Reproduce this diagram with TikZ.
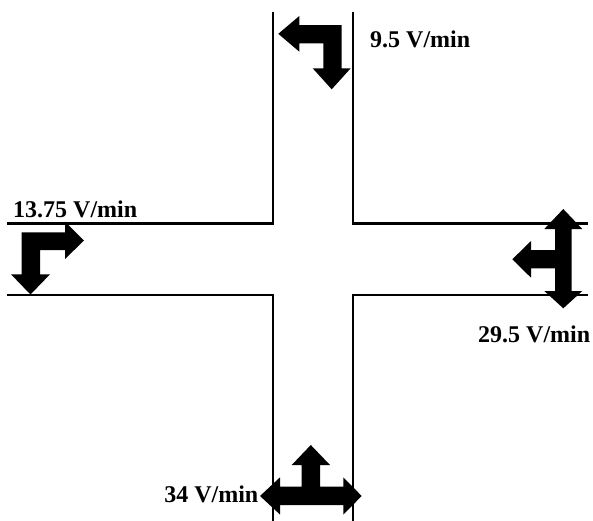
\documentclass[tikz,border=0pt]{standalone}
\usepackage{fontspec}
\setmainfont{Liberation Serif}
\begin{document}
\begin{tikzpicture}[x=1pt,y=-1pt,
  road/.style={line width=2.3pt, line cap=rect, line join=miter},
  turn/.style={fill=black, draw=none},
  rate/.style={anchor=base west, inner sep=0pt, font=\fontsize{24}{28}\selectfont\bfseries}]
\useasboundingbox (0,0) rectangle (593,520);
\clip (0,0) rectangle (593,520);
% roads
\draw[road] (8,223.5) -- (273,223.5) -- (273,13);
\draw[road] (353,13) -- (353,223.5) -- (587,223.5);
\draw[road] (8,295) -- (273,295) -- (273,522);
\draw[road] (353,522) -- (353,295) -- (587,295);
% top arrow: left + down
\fill[turn] (278.3,33.8) -- (299.3,16) -- (299.3,25) -- (341.7,25) -- (341.7,68.3)
  -- (350.7,68.3) -- (331.7,89.3) -- (312.7,68.3) -- (323.3,68.3) -- (323.3,43.3)
  -- (299.3,43.3) -- (299.3,51.7) -- cycle;
% left arrow: right + down
\fill[turn] (84,240.5) -- (65,221.5) -- (65,232.3) -- (21.7,232.3) -- (21.7,274.3)
  -- (11,274.3) -- (30.5,294.5) -- (50,274.3) -- (40,274.3) -- (40,250)
  -- (65,250) -- (65,259) -- cycle;
% right arrow: up + down + left
\fill[turn] (563.3,209) -- (582.3,229) -- (571.7,229) -- (571.7,291) -- (582.3,291)
  -- (563.3,308.3) -- (544.3,291) -- (555,291) -- (555,268.3) -- (531,268.3)
  -- (531,277.7) -- (512.3,259.3) -- (531,241) -- (531,250) -- (555,250)
  -- (555,229) -- (544.3,229) -- cycle;
% bottom arrow: left + right + up
\fill[turn] (260,496) -- (280,477.3) -- (280,486.7) -- (301.7,486.7) -- (301.7,465)
  -- (291.7,465) -- (310.8,445) -- (330,465) -- (320,465) -- (320,486.7)
  -- (343.3,486.7) -- (343.3,477.3) -- (361.7,496) -- (343.3,514.5) -- (343.3,505)
  -- (280,505) -- (280,514.5) -- cycle;
% labels
\node[rate] (t1) at (370,47) {9.5 V/min};
\node[rate] (t2) at (13,217) {13.75 V/min};
\node[rate] (t3) at (478,342) {29.5 V/min};
\node[rate, anchor=base east] (t4) at (258.5,502) {34 V/min};
\end{tikzpicture}
\end{document}
